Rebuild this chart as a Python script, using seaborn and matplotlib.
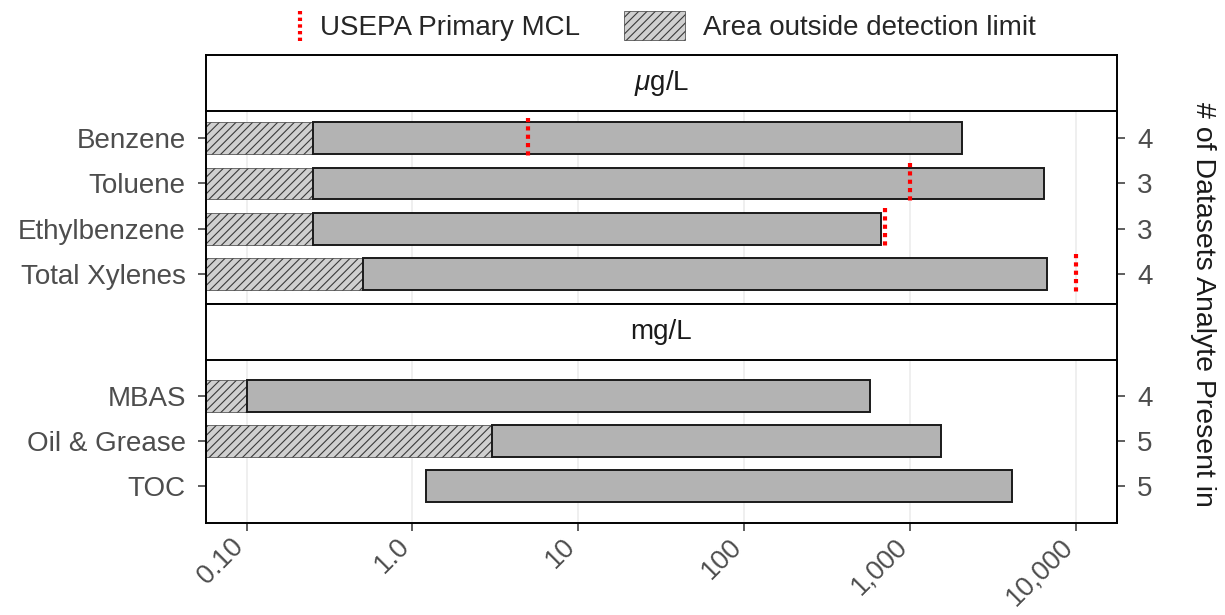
import numpy as np
import pandas as pd
import matplotlib
matplotlib.use("Agg")
import matplotlib.pyplot as plt
import matplotlib.transforms as mtransforms
import seaborn as sns
from matplotlib.legend_handler import HandlerBase
from matplotlib.lines import Line2D
from matplotlib.patches import Patch
from matplotlib.ticker import NullLocator, FixedLocator, FixedFormatter

# ---------------- data ----------------
ug_analytes = ["Benzene", "Toluene", "Ethylbenzene", "Total Xylenes"]
ug_min = [0.25, 0.25, 0.25, 0.5]
ug_max = [2050, 6400, 670, 6700]
ug_dl = [0.25, 0.25, 0.25, 0.5]
ug_mcl = [5, 1000, 700, 10000]
ug_count = [4, 3, 3, 4]

mg_analytes = ["MBAS", "Oil & Grease", "TOC"]
mg_min = [0.1, 3, 1.2]
mg_max = [570, 1540, 4100]
mg_dl = [0.1, 3, np.nan]
mg_mcl = [np.nan, np.nan, np.nan]
mg_count = [4, 5, 5]

strip_labels = [r"$\mu$g/L", "mg/L"]
x_ticks = [0.1, 1, 10, 100, 1000, 10000]
x_tick_labels = ["0.10", "1.0", "10", "100", "1,000", "10,000"]
legend_labels = ["USEPA Primary MCL", "Area outside detection limit"]
right_label = "# of Datasets Analyte Present in"

# ---------------- style ----------------
sns.set_theme(style="white")
plt.rcParams["font.family"] = ["Liberation Sans", "DejaVu Sans"]
plt.rcParams["mathtext.fontset"] = "custom"
plt.rcParams["mathtext.it"] = "Liberation Sans:italic"
plt.rcParams["mathtext.rm"] = "Liberation Sans"
plt.rcParams["hatch.linewidth"] = 0.8

W, H = 1225, 615
fig = plt.figure(figsize=(W / 100, H / 100), dpi=100)


def px_axes(x0, y0, x1, y1, **kw):
    return fig.add_axes([x0 / W, 1 - y1 / H, (x1 - x0) / W, (y1 - y0) / H], **kw)


XLIM = (0.057, 17600)
GREY_TXT = "#4D4D4D"
BAR_H = 0.7
HATCH_FILL = "#D0D0D0"
HATCH_EDGE = "#3A3A3A"


def draw_panel(ax, names, lo, hi, dl, mcl, counts, top_m, bot_m, show_x):
    df = pd.DataFrame({"analyte": names, "lo": lo, "hi": hi, "dl": dl,
                       "mcl": mcl, "n": counts})
    df["pos"] = np.arange(len(df))
    ax.set_xscale("log")
    ax.set_xlim(*XLIM)
    ax.set_ylim(len(df) - 1 + bot_m, -top_m)
    ax.xaxis.set_major_locator(FixedLocator(x_ticks))
    ax.xaxis.set_minor_locator(NullLocator())
    ax.grid(True, axis="x", which="major", color="#EBEBEB", lw=1.1)
    ax.grid(False, axis="y")
    ax.set_axisbelow(True)

    hd = df.dropna(subset=["dl"])
    ax.barh(hd["pos"], hd["dl"] - 0.02, left=0.02, height=BAR_H,
            color=HATCH_FILL, edgecolor=HATCH_EDGE, hatch="////", lw=0.5,
            zorder=2)
    ax.barh(df["pos"], df["hi"] - df["lo"], left=df["lo"], height=BAR_H,
            color="#B3B3B3", edgecolor="#1A1A1A", lw=1.4, zorder=3)
    md = df.dropna(subset=["mcl"])
    if len(md):
        ax.vlines(md["mcl"], md["pos"] - 0.45, md["pos"] + 0.45, colors="red",
                  linestyles=(0, (1, 1)), lw=3, zorder=4)

    ax.set_yticks(df["pos"])
    ax.set_yticklabels(df["analyte"])
    ax.tick_params(axis="y", which="major", left=True, length=5.5, width=1.1,
                   color="#333333", labelsize=20, labelcolor=GREY_TXT, pad=9)
    if show_x:
        ax.xaxis.set_major_formatter(FixedFormatter(x_tick_labels))
        ax.tick_params(axis="x", which="major", bottom=True, length=5.5,
                       width=1.1, color="#333333", labelsize=19.5,
                       labelcolor=GREY_TXT, pad=2)
        offset = mtransforms.ScaledTranslation(-0.16, 0.0, fig.dpi_scale_trans)
        for lab in ax.get_xticklabels():
            lab.set_rotation(45)
            lab.set_ha("right")
            lab.set_va("top")
            lab.set_rotation_mode("anchor")
            lab.set_transform(lab.get_transform() + offset)
    else:
        ax.tick_params(axis="x", bottom=False, labelbottom=False)
    ax.set_xlabel("")
    ax.set_ylabel("")
    for s in ax.spines.values():
        s.set_color("black")
        s.set_linewidth(1.4)
    ax.spines["top"].set_visible(False)

    ax2 = ax.twinx()
    ax2.set_ylim(ax.get_ylim())
    ax2.set_yticks(df["pos"])
    ax2.set_yticklabels([str(c) for c in df["n"]])
    ax2.tick_params(axis="y", right=True, length=5.5, width=1.1,
                    color="#333333", labelsize=20, labelcolor=GREY_TXT, pad=9)
    for k, s in ax2.spines.items():
        s.set_visible(k == "right")
        s.set_linewidth(1.4)
        s.set_color("black")
    ax2.grid(False)
    return ax


ax1 = px_axes(206, 111, 1117, 304)
draw_panel(ax1, ug_analytes, ug_min, ug_max, ug_dl, ug_mcl, ug_count,
           0.6, 0.66, False)
ax2 = px_axes(206, 360, 1117, 523)
draw_panel(ax2, mg_analytes, mg_min, mg_max, mg_dl, mg_mcl, mg_count,
           0.8, 0.82, True)

for (y0, y1), lab in zip([(55, 111), (304, 360)], strip_labels):
    s = px_axes(206, y0, 1117, y1)
    s.set_xticks([])
    s.set_yticks([])
    s.set_facecolor("white")
    for sp in s.spines.values():
        sp.set_visible(True)
        sp.set_color("black")
        sp.set_linewidth(1.4)
    s.text(0.5, 0.5, lab, transform=s.transAxes, ha="center", va="center",
           fontsize=20, color="#1A1A1A")

fig.text(1203 / W, 1 - 304 / H, right_label, rotation=270, ha="center",
         va="center", fontsize=20.5, color="#1A1A1A")


class VLineHandler(HandlerBase):
    def create_artists(self, legend, orig_handle, xdescent, ydescent,
                       width, height, fontsize, trans):
        x = width - xdescent - 1
        ln = Line2D([x, x], [-ydescent - 0.05 * height,
                             height - ydescent + 0.05 * height],
                    color="red", lw=3, linestyle=(0, (0.8, 0.8)),
                    transform=trans)
        return [ln]


h_mcl = Line2D([], [], color="red")
h_dl = Patch(facecolor=HATCH_FILL, edgecolor=HATCH_EDGE, hatch="////", lw=0.5)
fig.legend(handles=[h_mcl, h_dl], labels=legend_labels,
           handler_map={Line2D: VLineHandler()}, loc="center",
           bbox_to_anchor=(0.521, 1 - 26 / H), ncol=2, frameon=False,
           fontsize=20, handlelength=2.2, handleheight=1.22,
           handletextpad=0.65, columnspacing=1.58, borderpad=0,
           borderaxespad=0)

fig.savefig("out.png", dpi=100)
